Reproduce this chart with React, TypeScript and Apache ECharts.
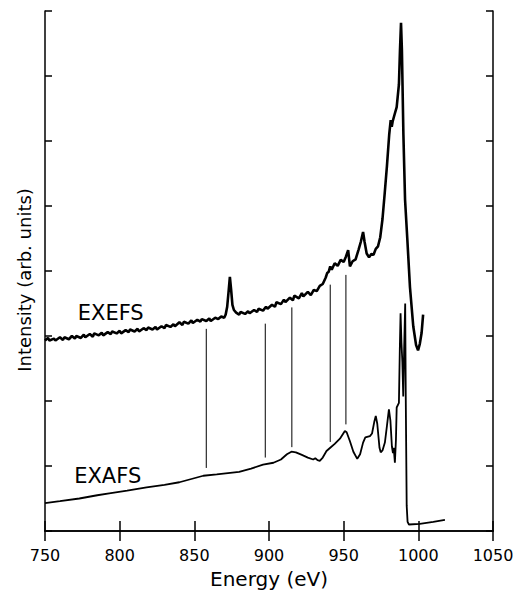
import React, { useEffect, useRef } from "react";
import * as echarts from "echarts";

const xTicks = { min: 750, max: 1050, step: 50 };
const yRange = { min: 0, max: 8, step: 1 };

const exefs: [number, number][] = [
  [750, 2.93], [752, 2.97], [753, 2.93], [756, 2.96], [757, 2.93], [760, 2.98], [762, 2.94], [763, 2.98],
  [766, 2.95], [768, 3.0], [770, 2.96], [771, 3.0], [774, 2.97], [776, 3.02], [777, 2.98], [780, 3.03],
  [782, 2.99], [783, 3.04], [786, 3.01], [788, 3.05], [789, 3.01], [792, 3.06], [794, 3.03], [795, 3.07],
  [798, 3.04], [800, 3.08], [801, 3.04], [804, 3.09], [806, 3.06], [807, 3.1], [810, 3.07], [812, 3.11],
  [813, 3.07], [816, 3.12], [818, 3.09], [819, 3.13], [822, 3.1], [824, 3.14], [825, 3.1], [828, 3.15],
  [830, 3.12], [831, 3.17], [834, 3.14], [836, 3.18], [837, 3.15], [840, 3.21], [842, 3.17], [843, 3.22],
  [846, 3.19], [848, 3.24], [849, 3.2], [852, 3.25], [854, 3.22], [855, 3.26], [858, 3.23], [860, 3.27],
  [861, 3.23], [864, 3.28], [866, 3.26], [868, 3.3], [870, 3.28], [871, 3.33], [872, 3.45], [873, 3.7],
  [873.8, 3.91], [874.6, 3.72], [875.5, 3.48], [876.5, 3.4], [878, 3.36], [880, 3.33], [881, 3.37],
  [884, 3.34], [886, 3.38], [887, 3.35], [890, 3.4], [892, 3.37], [893, 3.42], [896, 3.39], [898, 3.45],
  [899, 3.42], [902, 3.48], [904, 3.45], [905, 3.52], [908, 3.49], [910, 3.56], [911, 3.52], [914, 3.59],
  [916, 3.55], [917, 3.62], [920, 3.58], [922, 3.66], [923, 3.61], [926, 3.68], [928, 3.63], [930, 3.71],
  [932, 3.69], [934, 3.77], [936, 3.8], [938, 3.9], [939, 3.97], [940, 3.99], [941, 4.07], [942, 4.02],
  [944, 4.12], [946, 4.08], [948, 4.17], [950, 4.14], [951.5, 4.22], [953, 4.32], [954.2, 4.07],
  [956, 4.15], [958, 4.18], [960, 4.33], [961.5, 4.45], [963, 4.6], [964, 4.45], [965.4, 4.27],
  [967, 4.21], [968.5, 4.26], [970, 4.25], [971.5, 4.34], [973, 4.38], [974.5, 4.52], [976, 4.8],
  [977.5, 5.2], [979, 5.62], [980.5, 6.1], [981.5, 6.32], [982.2, 6.22], [982.8, 6.3], [984, 6.4],
  [985.5, 6.52], [987, 6.87], [987.7, 7.39], [988.4, 7.82], [989, 7.4], [990, 6.1], [991.1, 5.1],
  [992.6, 4.5], [994.4, 3.75], [996.6, 3.15], [998.5, 2.86], [999.8, 2.78], [1001, 2.88],
  [1002.2, 3.05], [1003.2, 3.33],
];

const exafs: [number, number][] = [
  [750, 0.43], [760, 0.46], [773, 0.5], [785, 0.55], [793, 0.58], [805, 0.62], [818, 0.67], [830, 0.71],
  [840, 0.75], [848, 0.8], [856, 0.85], [865, 0.87], [880, 0.91], [888, 0.96], [896, 1.02], [903, 1.05],
  [908, 1.1], [912, 1.18], [915, 1.22], [918, 1.21], [922, 1.17], [926, 1.13], [929.6, 1.1], [931, 1.12],
  [932.5, 1.09], [934, 1.08], [936, 1.13], [938.5, 1.23], [941, 1.28], [944, 1.34], [947.5, 1.42],
  [950.8, 1.54], [952, 1.52], [954.2, 1.38], [956.5, 1.22], [959.1, 1.11], [961, 1.18], [963, 1.36],
  [964.5, 1.44], [967.6, 1.46], [969, 1.5], [970.5, 1.68], [971.5, 1.77], [972.5, 1.65], [974, 1.28],
  [974.8, 1.21], [976, 1.24], [977.6, 1.36], [979, 1.62], [980.3, 1.87], [981.3, 1.7], [982.3, 1.3],
  [983, 1.2], [983.5, 1.28], [984.3, 1.05], [985, 1.4], [985.5, 1.9], [987, 1.97], [987.6, 2.8],
  [988.1, 3.35], [988.7, 2.9], [989.3, 2.6], [989.9, 2.07], [990.5, 2.8], [991.2, 3.5], [991.6, 2.0],
  [992.2, 0.39], [992.8, 0.14], [993.7, 0.1], [1001, 0.11], [1010, 0.14], [1017.8, 0.17],
];

const markerEnergy = [858, 897.5, 915.3, 941, 951.5];
const markerTop = [3.11, 3.19, 3.44, 3.79, 3.94];
const markerBottom = [0.97, 1.13, 1.29, 1.37, 1.64];

const curveLabels = ["EXEFS", "EXAFS"];
const labelAnchors: [number, number][] = [[794, 3.36], [792, 0.84]];

const xName = "Energy (eV)";
const yName = "Intensity (arb. units)";

export default function App() {
  const ref = useRef<HTMLDivElement>(null);
  useEffect(() => {
    const chart = echarts.init(ref.current!, null, { renderer: "svg" });
    const font = "DejaVu Sans";
    const line = { show: true, lineStyle: { color: "#000", width: 1.5 } };
    const ticks = (len: number) => ({ show: true, inside: true, length: len, lineStyle: { color: "#000", width: 1.5 } });
    const xBase = {
      type: "value" as const,
      min: xTicks.min,
      max: xTicks.max,
      interval: xTicks.step,
      axisLine: line,
      axisTick: ticks(10),
      splitLine: { show: false },
    };
    const yBase = {
      type: "value" as const,
      min: yRange.min,
      max: yRange.max,
      interval: yRange.step,
      axisLine: line,
      axisTick: ticks(7),
      splitLine: { show: false },
      axisLabel: { show: false },
    };
    const markerSeries = markerEnergy.map((e, i) => ({
      type: "line" as const,
      data: [[e, markerTop[i]], [e, markerBottom[i]]],
      showSymbol: false,
      lineStyle: { color: "#000", width: 1 },
      silent: true,
      z: 1,
    }));
    chart.setOption({
      animation: false,
      backgroundColor: "#fff",
      grid: { left: 45, top: 11, right: 27, bottom: 62, containLabel: false },
      xAxis: [
        {
          ...xBase,
          position: "bottom",
          axisLabel: {
            show: true,
            margin: 16,
            color: "#000",
            fontFamily: font,
            fontSize: 16,
            formatter: (v: number) => String(v),
          },
          name: xName,
          nameLocation: "middle",
          nameGap: 38,
          nameTextStyle: { color: "#000", fontFamily: font, fontSize: 20 },
        },
        { ...xBase, position: "top", axisLabel: { show: false } },
      ],
      yAxis: [
        {
          ...yBase,
          position: "left",
          name: yName,
          nameLocation: "middle",
          nameGap: 12,
          nameRotate: 90,
          nameTextStyle: { color: "#000", fontFamily: font, fontSize: 18, padding: [0, 18, 0, 0] },
        },
        { ...yBase, position: "right" },
      ],
      series: [
        {
          type: "line",
          data: exefs,
          showSymbol: false,
          lineStyle: { color: "#000", width: 2.6 },
          z: 3,
        },
        {
          type: "line",
          data: exafs,
          showSymbol: false,
          lineStyle: { color: "#000", width: 1.8 },
          z: 3,
        },
        ...markerSeries,
      ],
    });
    const graphic = labelAnchors.map((p, i) => {
      const [px, py] = chart.convertToPixel({ gridIndex: 0 }, p) as number[];
      return {
        type: "text" as const,
        x: px,
        y: py,
        style: {
          text: curveLabels[i],
          fill: "#000",
          font: `21px "${font}"`,
          align: "center",
          verticalAlign: "middle",
        },
        z: 10,
      };
    });
    chart.setOption({ graphic });
    return () => chart.dispose();
  }, []);
  return <div ref={ref} style={{ position: "absolute", left: 0, top: 0, width: 520, height: 594 }} />;
}
